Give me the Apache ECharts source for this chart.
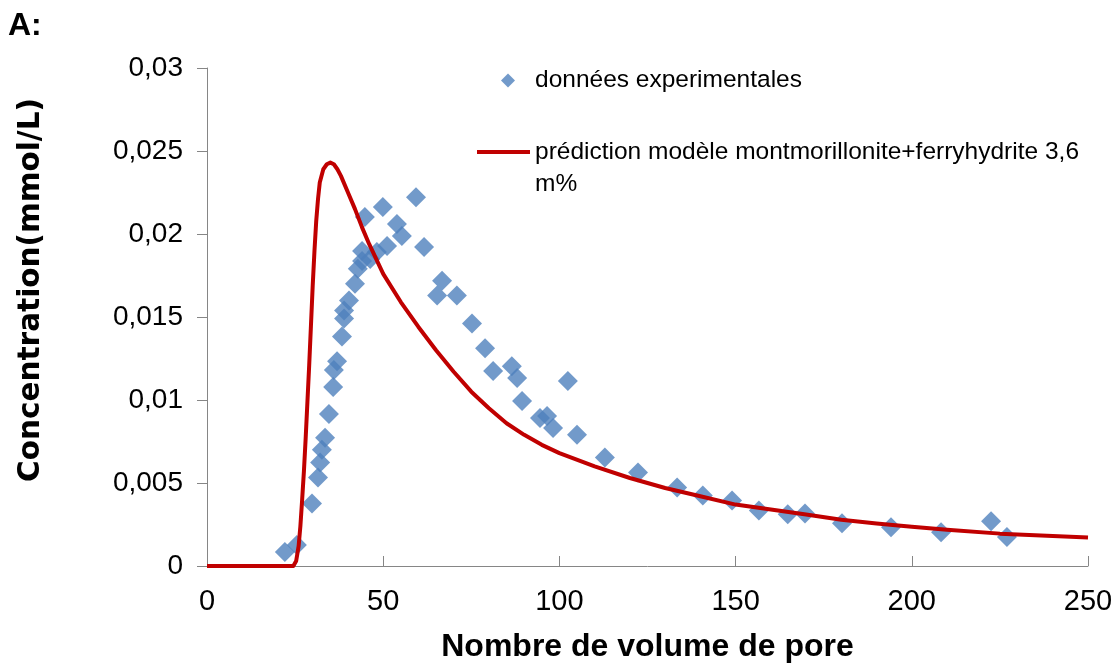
<!DOCTYPE html>
<html>
<head>
<meta charset="utf-8">
<script src="https://cdn.jsdelivr.net/npm/echarts@6/dist/echarts.min.js"></script>
<style>
  html, body { margin: 0; padding: 0; background: #fff; }
  #chart { width: 1118px; height: 668px; }
</style>
</head>
<body>
<div id="chart"></div>
<script>
// experimental points (pore volumes, mmol/L)
var expX = [22.1, 25.5, 29.8, 31.5, 32.1, 32.6, 33.5, 34.6, 35.8, 36.0, 36.9, 38.3, 38.9, 38.9, 40.3,
    42.0, 42.8, 44.0, 44.0, 46.3, 48.2, 51.1, 44.8, 49.9, 53.9, 55.3, 59.3, 61.6, 66.7, 65.3,
    70.9, 75.2, 78.9, 81.2, 86.5, 88.0, 89.4, 94.5, 96.5, 98.2, 102.4, 105.0, 112.9, 122.3, 133.4,
    140.7, 149.0, 156.6, 164.8, 169.7, 180.2, 194.1, 208.3, 222.5, 227.0];
var expY = [0.00084, 0.00126, 0.00377, 0.00533, 0.00623, 0.0070, 0.00772, 0.00916, 0.01078, 0.0118, 0.01234, 0.01383, 0.01491, 0.01539, 0.01599,
    0.01701, 0.0179, 0.01838, 0.01898, 0.0185, 0.01892, 0.01928, 0.02102, 0.02162, 0.0206, 0.01988, 0.02222, 0.01922, 0.01719, 0.01629,
    0.01629, 0.01461, 0.01311, 0.01174, 0.01204, 0.01132, 0.00994, 0.00892, 0.00904, 0.00832, 0.01114, 0.0079, 0.00653, 0.00563, 0.00473,
    0.00425, 0.00395, 0.00335, 0.00311, 0.00317, 0.00257, 0.00234, 0.00204, 0.00269, 0.00174];

// model prediction curve
var modelX = [0, 24.5, 25.3, 26, 26.5, 27, 27.5, 28, 28.5, 29, 29.5, 30, 30.5, 31, 31.5, 32, 33, 34, 35, 36, 37, 38,
    40, 42, 44, 46, 48, 50, 55, 60, 65, 70, 75, 80, 85, 90, 95, 100, 110, 120, 130, 140, 150, 160, 170,
    180, 190, 200, 210, 225, 250];
var modelY = [0, 0, 0.0003, 0.0012, 0.0024, 0.0040, 0.0057, 0.0077, 0.0099, 0.0121, 0.0145, 0.0169, 0.0190, 0.0208, 0.0221, 0.0231, 0.0239, 0.0242, 0.0243, 0.0242, 0.0239, 0.0235,
    0.0225, 0.0215, 0.0204, 0.0194, 0.0185, 0.0176, 0.0159, 0.0144, 0.0130, 0.0117, 0.0105, 0.0095, 0.0086, 0.0079, 0.0073, 0.0068, 0.0060, 0.0053, 0.0047, 0.0042, 0.0037, 0.0034, 0.0031,
    0.00278, 0.00256, 0.00236, 0.00218, 0.00195, 0.00172];

var yTicks = ['0', '0,005', '0,01', '0,015', '0,02', '0,025', '0,03'];

var expName = 'données experimentales';
var modelName = 'prédiction modèle montmorillonite+ferryhydrite 3,6 m%';

var expData = expX.map(function (x, i) { return [x, expY[i]]; });
var modelData = modelX.map(function (x, i) { return [x, modelY[i]]; });

var font = 'Liberation Sans, Arial, sans-serif';
var chart = echarts.init(document.getElementById('chart'));
var option = {
    animation: false,
    textStyle: { fontFamily: font },
    title: {
        text: 'A:',
        left: 8,
        top: 10,
        padding: 0,
        textStyle: { fontFamily: font, fontSize: 32, fontWeight: 'bold', color: '#000' }
    },
    legend: [
        {
            data: [expName],
            left: 501,
            top: 68,
            padding: 0,
            icon: 'diamond',
            itemWidth: 14,
            itemHeight: 14,
            textStyle: { fontFamily: font, fontSize: 24.5, color: '#000', padding: [0, 0, 0, 15] }
        },
        {
            data: [{ name: modelName, icon: 'rect' }],
            left: 477,
            top: 104,
            padding: 0,
            itemWidth: 53,
            itemHeight: 4,
            formatter: function () {
                return ' \nprédiction modèle montmorillonite+ferryhydrite 3,6\nm%';
            },
            textStyle: { fontFamily: font, fontSize: 24.5, lineHeight: 32, color: '#000' }
        }
    ],
    grid: { left: 207, right: 30, top: 68, bottom: 99, containLabel: false },
    xAxis: {
        type: 'value',
        min: 0,
        max: 250,
        interval: 50,
        name: 'Nombre de volume de pore',
        nameLocation: 'middle',
        nameGap: 65,
        nameTextStyle: { fontFamily: font, fontSize: 32, fontWeight: 'bold', color: '#000' },
        splitLine: { show: false },
        axisLine: { lineStyle: { color: '#868686', width: 1 } },
        axisTick: { inside: true, length: 10, lineStyle: { color: '#868686' } },
        axisLabel: { fontFamily: font, fontSize: 29, color: '#000', margin: 21 }
    },
    yAxis: {
        type: 'value',
        min: 0,
        max: 0.03,
        interval: 0.005,
        name: 'Concentration(mmol/L)',
        nameLocation: 'middle',
        nameGap: 161,
        nameTextStyle: {
            fontFamily: 'DejaVu Sans, sans-serif', fontSize: 29.5, fontWeight: 'bold', color: '#000',
            padding: [0, 0, 0, 54]
        },
        splitLine: { show: false },
        axisLine: { show: true, lineStyle: { color: '#868686', width: 1 } },
        axisTick: { show: true, length: 10, lineStyle: { color: '#868686' } },
        axisLabel: {
            fontFamily: font, fontSize: 28, color: '#000', margin: 24,
            formatter: function (v) { return yTicks[Math.round(v / 0.005)]; }
        }
    },
    series: [
        {
            name: expName,
            type: 'scatter',
            symbol: 'diamond',
            symbolSize: 20,
            itemStyle: { color: '#4F81BD' },
            data: expData,
            z: 2
        },
        {
            name: modelName,
            type: 'line',
            showSymbol: false,
            smooth: false,
            itemStyle: { color: '#C00000' },
            lineStyle: { color: '#C00000', width: 4, join: 'round' },
            data: modelData,
            z: 3
        }
    ]
};
chart.setOption(option);
</script>
</body>
</html>
